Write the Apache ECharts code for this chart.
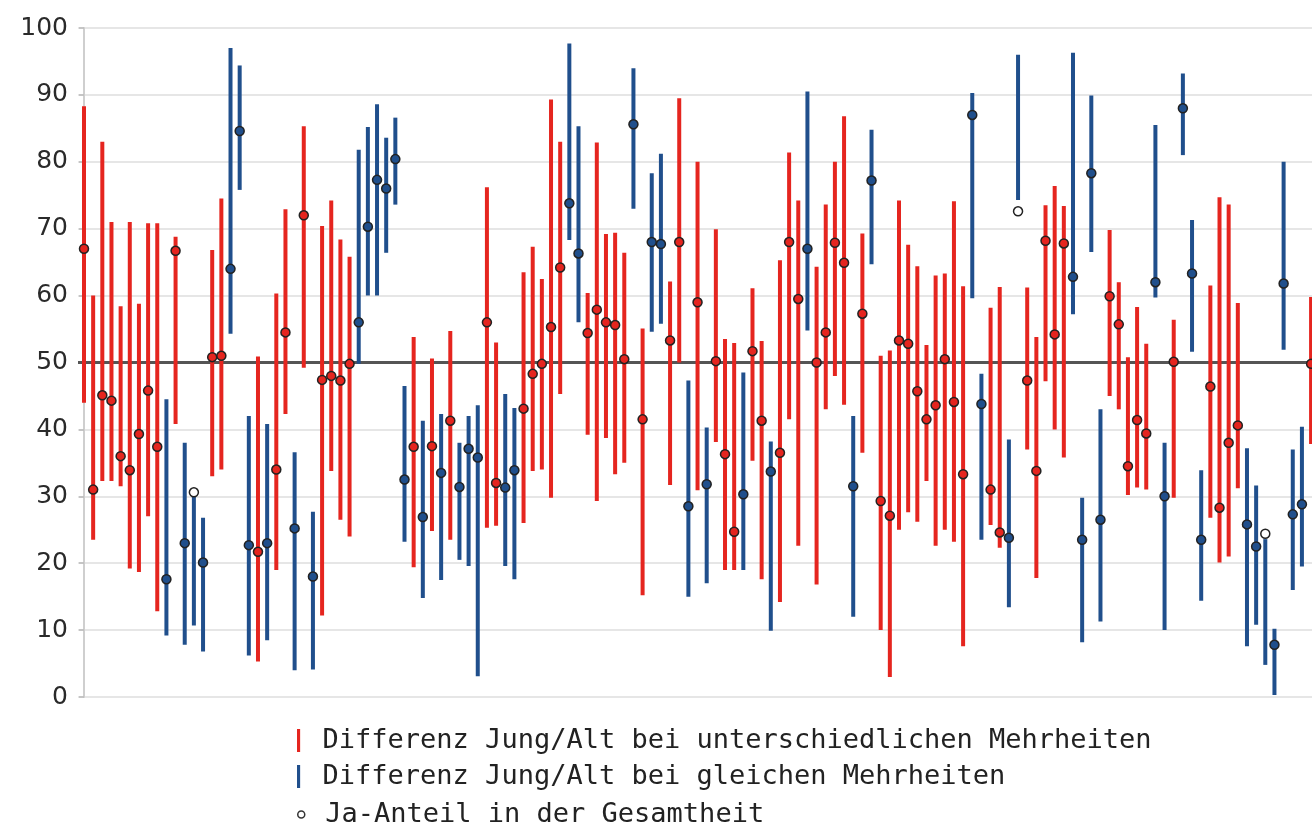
<!DOCTYPE html>
<html>
<head>
<meta charset="utf-8">
<title>Differenz Jung/Alt</title>
<script src="https://cdn.jsdelivr.net/npm/echarts@6/dist/echarts.min.js"></script>
<style>
  html, body { margin: 0; padding: 0; background: #fff; }
  #chart { width: 1312px; height: 828px; }
</style>
</head>
<body>
<div id="chart"></div>
<script>
// u = unterschiedliche Mehrheiten (rot), g = gleiche Mehrheiten (blau)
var majority = [
  'u','u','u','u','u','u','u','u','u','g','u','g','g','g','u','u','g','g','g','u',
  'g','u','u','g','u','g','u','u','u','u','g','g','g','g','g','g','u','g','u','g',
  'u','g','g','g','u','u','g','g','u','u','u','u','u','g','g','u','u','u','u','u',
  'g','u','g','g','u','u','g','u','g','u','u','u','g','u','u','g','u','u','u','g',
  'u','u','u','u','g','u','g','u','u','u','u','u','u','u','u','u','u','g','g','u',
  'u','g','g','u','u','u','u','u','g','g','g','g','u','u','u','u','u','g','g','u',
  'g','g','g','u','u','u','u','g','g','g','g','g','g','g','u'
]
// Ja-Anteil bei einer Altersgruppe (unteres Ende)
var lowVals = [
  44, 23.5, 32.3, 32.3, 31.5, 19.2, 18.7, 27, 12.8, 9.2, 40.8, 7.8, 10.7, 6.8, 33, 34, 54.3, 75.8, 6.2, 5.3,
  8.5, 19, 42.3, 4, 49.2, 4.1, 12.2, 33.8, 26.5, 24, 49.8, 60, 60, 66.4, 73.6, 23.2, 19.4, 14.8, 24.8, 17.5,
  23.5, 20.5, 19.6, 3.1, 25.3, 25.6, 19.6, 17.6, 26, 33.8, 34, 29.8, 45.3, 68.3, 56, 39.2, 29.3, 38.7, 33.3, 35,
  73, 15.2, 54.6, 55.8, 31.7, 50, 15, 30.9, 17, 38.1, 19, 19, 19, 35.3, 17.6, 9.9, 14.2, 41.5, 22.6, 54.8,
  16.8, 43, 48, 43.7, 12, 36.5, 64.7, 10, 3, 25, 27.6, 26.2, 32.3, 22.6, 25, 23.2, 7.6, 59.6, 23.5, 25.7,
  22.3, 13.4, 74.3, 37, 17.8, 47.2, 40, 35.8, 57.2, 8.2, 66.5, 11.3, 45, 43, 30.2, 31.3, 31, 59.7, 10, 29.8,
  81, 51.6, 14.4, 26.8, 20.1, 21, 31.2, 7.6, 10.8, 4.8, 0.3, 51.9, 16, 19.5, 37.8
]
// Ja-Anteil bei der anderen Altersgruppe (oberes Ende)
var highVals = [
  88.3, 60, 83, 71, 58.4, 71, 58.8, 70.8, 70.8, 44.5, 68.8, 38, 30.3, 26.8, 66.8, 74.5, 97, 94.4, 42, 50.9,
  40.8, 60.3, 72.9, 36.6, 85.3, 27.7, 70.4, 74.2, 68.4, 65.8, 81.8, 85.2, 88.6, 83.6, 86.6, 46.5, 53.8, 41.3, 50.6, 42.3,
  54.7, 38, 42, 43.6, 76.2, 53, 45.3, 43.2, 63.5, 67.3, 62.5, 89.3, 83, 97.7, 85.3, 60.4, 82.9, 69.2, 69.4, 66.4,
  94, 55.1, 78.3, 81.2, 62.1, 89.5, 47.3, 80, 40.3, 69.9, 53.5, 52.9, 48.5, 61.1, 53.2, 38.2, 65.3, 81.4, 74.2, 90.5,
  64.3, 73.6, 80, 86.8, 42, 69.3, 84.8, 51, 51.8, 74.2, 67.6, 64.4, 52.6, 63, 63.3, 74.1, 61.4, 90.3, 48.3, 58.2,
  61.3, 38.5, 96, 61.2, 53.8, 73.5, 76.4, 73.4, 96.3, 29.8, 89.9, 43, 69.8, 62, 50.8, 58.3, 52.8, 85.5, 38, 56.4,
  93.2, 71.3, 33.9, 61.5, 74.7, 73.6, 58.9, 37.2, 31.6, 23.6, 10.2, 80, 37, 40.4, 59.8
]
// Ja-Anteil in der Gesamtheit
var jaVals = [
  67, 31, 45.1, 44.3, 36, 33.9, 39.3, 45.8, 37.4, 17.6, 66.7, 23, 30.6, 20.1, 50.8, 51, 64, 84.6, 22.7, 21.7,
  23, 34, 54.5, 25.2, 72, 18, 47.4, 48, 47.3, 49.8, 56, 70.3, 77.3, 76, 80.4, 32.5, 37.4, 26.9, 37.5, 33.5,
  41.3, 31.4, 37.1, 35.8, 56, 32, 31.3, 33.9, 43.1, 48.3, 49.8, 55.3, 64.2, 73.8, 66.3, 54.4, 57.9, 56, 55.6, 50.5,
  85.6, 41.5, 68, 67.7, 53.3, 68, 28.5, 59, 31.8, 50.2, 36.3, 24.7, 30.3, 51.7, 41.3, 33.7, 36.5, 68, 59.5, 67,
  50, 54.5, 67.9, 64.9, 31.5, 57.3, 77.2, 29.3, 27.1, 53.3, 52.8, 45.7, 41.5, 43.6, 50.5, 44.1, 33.3, 87, 43.8, 31,
  24.6, 23.8, 72.6, 47.3, 33.8, 68.2, 54.2, 67.8, 62.8, 23.5, 78.3, 26.5, 59.9, 55.7, 34.5, 41.4, 39.4, 62, 30, 50.1,
  88, 63.3, 23.5, 46.4, 28.3, 38, 40.6, 25.8, 22.5, 24.4, 7.8, 61.8, 27.3, 28.8, 49.8
]
var yTicks = [0, 10, 20, 30, 40, 50, 60, 70, 80, 90, 100]

var legendNames = [
  'Differenz Jung/Alt bei unterschiedlichen Mehrheiten',
  'Differenz Jung/Alt bei gleichen Mehrheiten',
  'Ja-Anteil in der Gesamtheit'
]
var RED = '#e5251f'
var BLUE = '#204f8c'

var redBars = []
var blueBars = []
var dots = []
for (var i = 0; i < majority.length; i++) {
  var row = [i, lowVals[i], highVals[i]]
  if (majority[i] === 'u') {
    redBars.push(row)
  } else {
    blueBars.push(row)
  }
  // Punkt ausserhalb des Balkens -> weiss
  var outside = jaVals[i] > highVals[i] || jaVals[i] < lowVals[i]
  dots.push([i, jaVals[i], outside ? 'w' : majority[i]])
}

function renderBar(params, api) {
  var bottom = api.coord([api.value(0), api.value(1)])
  var top = api.coord([api.value(0), api.value(2)])
  return {
    type: 'rect',
    shape: { x: bottom[0] - 2, y: top[1], width: 4, height: bottom[1] - top[1] },
    style: { fill: api.visual('color') }
  }
}

var legendText = { fontFamily: 'DejaVu Sans Mono', fontSize: 27, color: '#222' }

var chart = echarts.init(document.getElementById('chart'))
chart.setOption({
  animation: false,
  grid: {
    left: 78,
    right: 0,
    top: 28,
    bottom: 131
  },
  legend: [
    {
      data: [legendNames[0]],
      left: 292,
      top: 722,
      icon: 'path://M0,0H3V22H0Z',
      itemWidth: 38,
      itemHeight: 23,
      textStyle: legendText
    },
    {
      data: [legendNames[1]],
      left: 292,
      top: 758,
      icon: 'path://M0,0H3V22H0Z',
      itemWidth: 38,
      itemHeight: 23,
      textStyle: legendText
    },
    {
      data: [legendNames[2]],
      left: 292,
      top: 796,
      icon: 'circle',
      itemWidth: 38,
      itemHeight: 7,
      itemStyle: { color: '#fff', borderColor: '#333', borderWidth: 1.5 },
      textStyle: legendText
    }
  ],
  xAxis: {
    type: 'value',
    min: -0.655,
    max: 134.1,
    show: false
  },
  yAxis: {
    type: 'value',
    min: yTicks[0],
    max: yTicks[yTicks.length - 1],
    interval: 10,
    axisLine: { show: true, lineStyle: { color: '#cfcfcf', width: 2 } },
    axisTick: { show: true, length: 5, lineStyle: { color: '#bbb', width: 1.5 } },
    axisLabel: {
      margin: 10,
      fontFamily: 'DejaVu Sans',
      fontSize: 25,
      color: '#2a2a2a'
    },
    splitLine: { lineStyle: { color: '#dedede', width: 1.5 } }
  },
  series: [
    {
      name: legendNames[0],
      type: 'custom',
      renderItem: renderBar,
      itemStyle: { color: RED },
      encode: { x: 0, y: [1, 2] },
      data: redBars,
      z: 3,
      markLine: {
        silent: true,
        symbol: 'none',
        label: { show: false },
        lineStyle: { color: '#555', width: 3, type: 'solid' },
        data: [{ yAxis: 50 }],
        z: 2
      }
    },
    {
      name: legendNames[1],
      type: 'custom',
      renderItem: renderBar,
      itemStyle: { color: BLUE },
      encode: { x: 0, y: [1, 2] },
      data: blueBars,
      z: 3
    },
    {
      name: legendNames[2],
      type: 'scatter',
      symbol: 'circle',
      symbolSize: 9,
      data: dots,
      z: 5,
      itemStyle: {
        borderColor: '#222',
        borderWidth: 1.5,
        opacity: 1,
        color: function (p) {
          if (p.data[2] === 'w') return '#fff'
          return p.data[2] === 'u' ? RED : BLUE
        }
      }
    }
  ]
})
</script>
</body>
</html>
